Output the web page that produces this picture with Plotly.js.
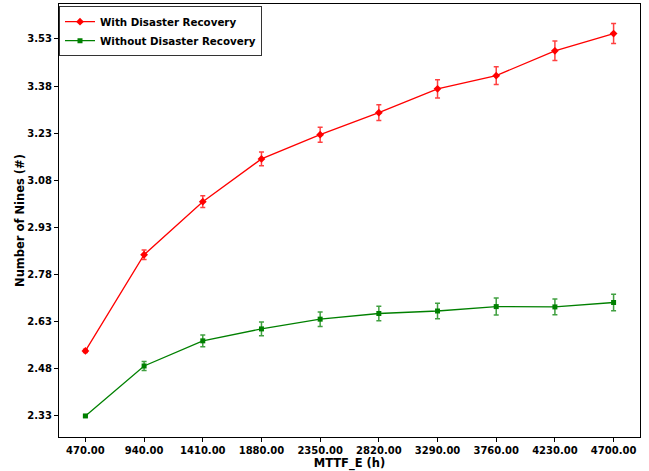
<!DOCTYPE html>
<html>
<head>
<meta charset="utf-8">
<script src="https://cdn.plot.ly/plotly-3.0.1.min.js"></script>
<style>html,body{margin:0;padding:0;background:#fff;}#chart{width:649px;height:471px;}</style>
</head>
<body>
<div id="chart"></div>
<script>
const mttf = [470, 940, 1410, 1880, 2350, 2820, 3290, 3760, 4230, 4700];
const xTickText = ["470.00","940.00","1410.00","1880.00","2350.00","2820.00","3290.00","3760.00","4230.00","4700.00"];
const withDR = [2.537, 2.843, 3.012, 3.148, 3.225, 3.295, 3.371, 3.413, 3.492, 3.547];
const withDRErr = [0.005, 0.015, 0.019, 0.022, 0.024, 0.025, 0.029, 0.028, 0.031, 0.032];
const withoutDR = [2.330, 2.489, 2.569, 2.607, 2.638, 2.656, 2.664, 2.678, 2.677, 2.691];
const withoutDRErr = [0.003, 0.014, 0.019, 0.022, 0.023, 0.023, 0.025, 0.027, 0.025, 0.026];
const yTicks = [2.33, 2.48, 2.63, 2.78, 2.93, 3.08, 3.23, 3.38, 3.53];
const yTickText = ["2.33","2.48","2.63","2.78","2.93","3.08","3.23","3.38","3.53"];

const font = {family: "DejaVu Sans", size: 10, color: "#000", weight: "bold"};

const traces = [
  {
    x: mttf, y: withDR, name: "With Disaster Recovery", type: "scatter", mode: "lines+markers",
    line: {color: "red", width: 1.3},
    marker: {symbol: "diamond", size: 6, color: "red"},
    error_y: {type: "data", array: withDRErr, visible: true, color: "rgba(255,0,0,0.75)", thickness: 1.5, width: 2.5}
  },
  {
    x: mttf, y: withoutDR, name: "Without Disaster Recovery", type: "scatter", mode: "lines+markers",
    line: {color: "green", width: 1.3},
    marker: {symbol: "square", size: 5, color: "green"},
    error_y: {type: "data", array: withoutDRErr, visible: true, color: "rgba(0,128,0,0.75)", thickness: 1.5, width: 2.5}
  }
];

const layout = {
  width: 649, height: 471,
  margin: {l: 59, r: 9, t: 4, b: 34},
  paper_bgcolor: "#fff", plot_bgcolor: "#fff",
  font: font,
  showlegend: true,
  legend: {
    x: 0.0, y: 0.995, xanchor: "left", yanchor: "top",
    bgcolor: "#fff", bordercolor: "#333", borderwidth: 1,
    font: {family: "DejaVu Sans", size: 10.3, color: "#000", weight: "bold"},
    tracegroupgap: 0, itemwidth: 30
  },
  xaxis: {
    range: [258.5, 4911.5],
    tickvals: mttf, ticktext: xTickText,
    ticks: "outside", ticklen: 4, tickwidth: 1, tickcolor: "#000",
    showgrid: false, zeroline: false,
    showline: true, mirror: true, linecolor: "#000", linewidth: 1,
    tickfont: {family: "DejaVu Sans", size: 10, color: "#000", weight: "bold"},
    title: {text: "MTTF_E (h)", font: {family: "DejaVu Sans", size: 11.5, color: "#000", weight: "bold"}, standoff: 1}
  },
  yaxis: {
    range: [2.263, 3.641],
    tickvals: yTicks, ticktext: yTickText,
    ticks: "outside", ticklen: 4, tickwidth: 1, tickcolor: "#000",
    showgrid: false, zeroline: false,
    showline: true, mirror: true, linecolor: "#000", linewidth: 1,
    tickfont: {family: "DejaVu Sans", size: 10, color: "#000", weight: "bold"},
    title: {text: "Number of Nines (#)", font: {family: "DejaVu Sans", size: 11.5, color: "#000", weight: "bold"}, standoff: 0}
  }
};

Plotly.newPlot("chart", traces, layout, {displayModeBar: false, staticPlot: true});
</script>
</body>
</html>
